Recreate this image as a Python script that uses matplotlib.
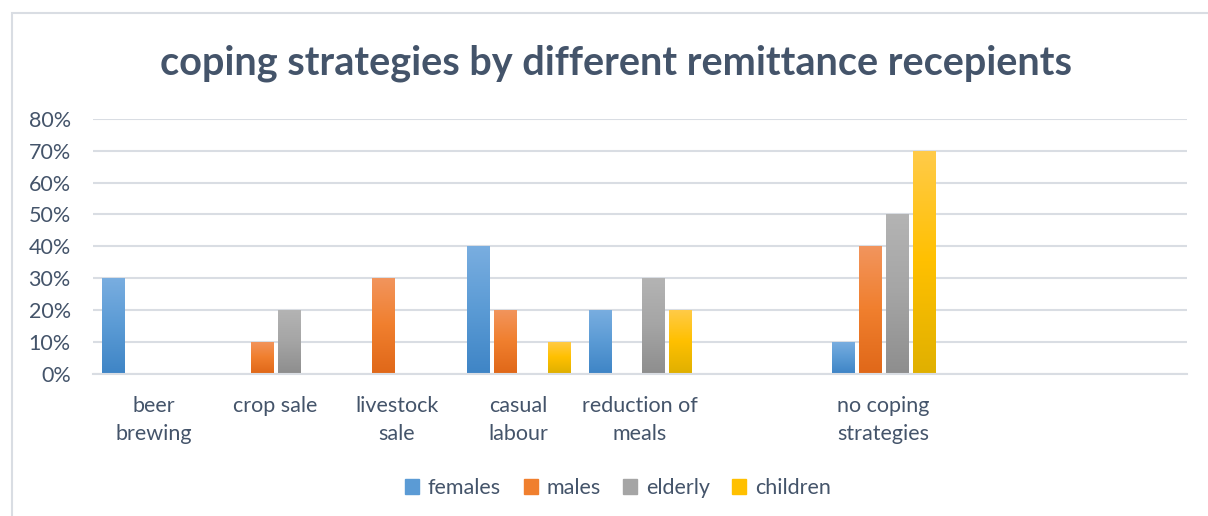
import numpy as np
import matplotlib
matplotlib.use("Agg")
import matplotlib.pyplot as plt
from matplotlib.colors import LinearSegmentedColormap
from matplotlib.patches import Rectangle
from matplotlib.ticker import PercentFormatter

# coping strategies (blank slots keep the category spacing of the original sheet)
categories = ["beer\nbrewing", "crop sale", "livestock\nsale", "casual\nlabour",
              "reduction of\nmeals", "", "no coping\nstrategies", "", ""]
females = [0.30, 0.00, 0.00, 0.40, 0.20, 0.00, 0.10, 0.00, 0.00]
males = [0.00, 0.10, 0.30, 0.20, 0.00, 0.00, 0.40, 0.00, 0.00]
elderly = [0.00, 0.20, 0.00, 0.00, 0.30, 0.00, 0.50, 0.00, 0.00]
children = [0.00, 0.00, 0.00, 0.10, 0.20, 0.00, 0.70, 0.00, 0.00]
series_names = ["females", "males", "elderly", "children"]

# (top, middle, bottom) gradient stops per series
gradients = [
    ("#7AAEE0", "#5B9BD5", "#3F85C6"),
    ("#F2955E", "#F07F2E", "#E06819"),
    ("#B4B4B4", "#A5A5A5", "#8E8E8E"),
    ("#FFCB4A", "#FFC000", "#E0B000"),
]
TEXT = "#44546A"
GRID = "#D9DDE3"

plt.rcParams["font.family"] = ["Lato", "DejaVu Sans"]

fig = plt.figure(figsize=(12.08, 5.16), dpi=100)
ax = fig.add_axes([93 / 1208, 1 - 373.5 / 516, 1094 / 1208, 254.5 / 516])

x = np.arange(len(categories))
width = 0.181
step = 0.222
grad = np.linspace(0, 1, 256).reshape(-1, 1)

for i, (name, vals) in enumerate(zip(series_names, [females, males, elderly, children])):
    cmap = LinearSegmentedColormap.from_list(name, list(gradients[i]))
    bars = ax.bar(x + (i - 1.5) * step, vals, width, color=gradients[i][1],
                  label=name, zorder=2)
    for b in bars:
        h = b.get_height()
        if h <= 0:
            continue
        b.set_facecolor("none")
        x0 = b.get_x()
        im = ax.imshow(grad, cmap=cmap, aspect="auto", origin="upper",
                       extent=(x0, x0 + b.get_width(), 0, h), zorder=2)
        im.set_clip_path(b)

ax.set_xlim(-0.5, len(categories) - 0.5)
ax.set_ylim(0, 0.8)
ax.set_yticks(np.arange(0, 0.81, 0.1))
ax.yaxis.set_major_formatter(PercentFormatter(1.0, decimals=0))
ax.set_xticks(x)
ax.set_xticklabels(categories, linespacing=1.5)
ax.grid(axis="y", color=GRID, linewidth=1.5, zorder=0)
ax.set_axisbelow(True)
for s in ["top", "right", "left"]:
    ax.spines[s].set_visible(False)
ax.spines["bottom"].set_color(GRID)
ax.spines["bottom"].set_linewidth(1.5)
ax.tick_params(axis="y", length=0, pad=16, labelsize=15.5, labelcolor=TEXT)
ax.tick_params(axis="x", length=0, pad=16.5, labelsize=15.5, labelcolor=TEXT)

fig.suptitle("coping strategies by different remittance recepients",
             x=616 / 1208, y=1 - 63 / 516, va="center", fontsize=28.5,
             fontweight="bold", color=TEXT)

handles = [Rectangle((0, 0), 1, 1, color=g[1]) for g in gradients]
fig.legend(handles, series_names, loc="center", bbox_to_anchor=(618 / 1208, 1 - 488 / 516),
           ncol=4, frameon=False, fontsize=15.5, labelcolor=TEXT, handlelength=0.65,
           handleheight=0.65, handletextpad=0.4, columnspacing=1.05)

# chart area border
fig.add_artist(Rectangle((12 / 1208, -0.01), 1.0, 1 - 13 / 516 + 0.01,
                         transform=fig.transFigure, fill=False,
                         edgecolor=GRID, linewidth=1.5))

fig.savefig("out.png", dpi=100)
